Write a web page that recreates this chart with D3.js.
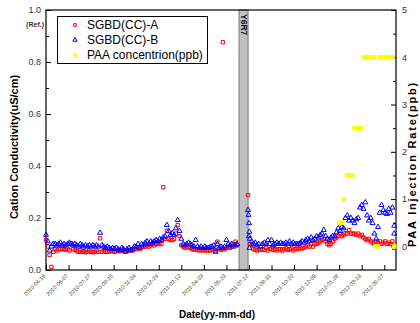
<!DOCTYPE html>
<html>
<head>
<meta charset="utf-8">
<script src="https://cdn.jsdelivr.net/npm/d3@7"></script>
<style>
  body { margin: 0; background: #fff; }
  svg { display: block; font-family: "Liberation Sans", Arial, sans-serif; }
</style>
</head>
<body>
<div id="chart"></div>
<script>
// x range and ticks
const startDate = "2010-04-18";
const endDate = "2012-06-02";
const dateTicks = ["2010-04-18", "2010-06-07", "2010-07-27", "2010-09-15", "2010-11-04", "2010-12-24",
  "2011-02-12", "2011-04-03", "2011-05-23", "2011-07-12", "2011-08-31", "2011-10-20",
  "2011-12-09", "2012-01-28", "2012-03-18", "2012-05-07"];
const leftTicks = [0, 0.2, 0.4, 0.6, 0.8, 1.0];
const rightTicks = [0, 1, 2, 3, 4, 5];

// outage window (Y6R7)
const outage = ["2011-06-20", "2011-07-10"];
const outageLabel = "Y6R7";

// SGBD readings, one sample every 4 days from sampleStart (null = no data)
const sampleStart = "2010-04-18";
const sampleStepDays = 4;
const sgbdA = [
  0.115, 0.09, 0.058, 0.012, 0.07, 0.08, 0.075, 0.08, 0.08, 0.08,
  0.08, 0.078, 0.082, 0.075, 0.103, 0.08, 0.078, 0.072, 0.07, 0.075,
  0.07, 0.072, 0.068, 0.07, 0.075, 0.07, 0.068, 0.07, 0.075, 0.07,
  0.122, 0.07, 0.075, 0.07, 0.072, 0.07, 0.075, 0.072, 0.07, 0.072,
  0.075, 0.072, 0.078, 0.075, 0.072, 0.075, 0.075, 0.078, 0.075, 0.08,
  0.08, 0.085, 0.08, 0.088, 0.09, 0.09, 0.095, 0.09, 0.095, 0.1,
  0.095, 0.1, 0.1, 0.105, 0.1, 0.318, 0.12, 0.151, 0.12, 0.115,
  0.115, 0.12, 0.14, 0.173, 0.13, 0.095, 0.09, 0.085, 0.09, 0.088,
  0.085, 0.08, 0.078, 0.08, 0.077, 0.075, 0.078, 0.075, 0.077, 0.075,
  0.075, 0.075, 0.078, 0.08, 0.075, 0.109, 0.08, 0.078, 0.08, 0.08,
  0.085, 0.09, 0.085, 0.09, 0.1, 0.109, 0.095,
  null, null, null, null, null,
  0.288, 0.1, 0.096, 0.08, 0.078, 0.075, 0.08, 0.077,
  0.08, 0.077, 0.085, 0.075, 0.08, 0.083, 0.077, 0.08, 0.075, 0.08,
  0.08, 0.075, 0.08, 0.083, 0.077, 0.08, 0.083, 0.075, 0.08, 0.083,
  0.08, 0.085, 0.083, 0.085, 0.09, 0.095, 0.09, 0.1, 0.09, 0.1,
  0.1, 0.105, 0.11, 0.115, 0.12, 0.11, 0.1, 0.095, 0.1, 0.11,
  0.12, 0.125, 0.13, 0.14, 0.13, 0.135, 0.142, 0.14, 0.154, 0.14,
  0.14, 0.14, 0.135, 0.14, 0.13, 0.135, 0.125, 0.12, 0.115, 0.12,
  0.11, 0.105, 0.1, 0.11, 0.105, 0.11, 0.1, 0.105, 0.11, 0.1,
  0.105, 0.1, 0.11, 0.085
];
const sgbdB = [
  0.135, 0.11, 0.075, 0.09, 0.1, 0.1, 0.095, 0.1, 0.105, 0.095,
  0.1, 0.095, 0.1, 0.105, 0.1, 0.095, 0.1, 0.095, 0.09, 0.1,
  0.095, 0.09, 0.095, 0.09, 0.095, 0.09, 0.095, 0.09, 0.095, 0.09,
  0.143, 0.095, 0.09, 0.085, 0.09, 0.085, 0.08, 0.085, 0.08, 0.085,
  0.08, 0.075, 0.085, 0.08, 0.07, 0.08, 0.085, 0.075, 0.082, 0.09,
  0.09, 0.1, 0.085, 0.1, 0.095, 0.105, 0.11, 0.1, 0.11, 0.105,
  0.11, 0.115, 0.11, 0.12, 0.115, 0.125, 0.13, 0.173, 0.15, 0.135,
  0.142, 0.135, 0.16, 0.192, 0.15, 0.12, 0.1, 0.095, 0.1, 0.105,
  0.1, 0.095, 0.09, 0.115, 0.09, 0.085, 0.09, 0.085, 0.09, 0.085,
  0.085, 0.088, 0.09, 0.095, 0.07, 0.1, 0.085, 0.09, 0.085, 0.09,
  0.115, 0.1, 0.095, 0.1, 0.09, 0.095, 0.1,
  null, null, null, null, null,
  0.231, 0.12, 0.11, 0.1, 0.105, 0.095, 0.1, 0.09,
  0.1, 0.105, 0.1, 0.115, 0.1, 0.115, 0.095, 0.1, 0.105, 0.1,
  0.105, 0.1, 0.1, 0.105, 0.1, 0.11, 0.1, 0.105, 0.1, 0.1,
  0.1, 0.105, 0.11, 0.105, 0.115, 0.12, 0.11, 0.125, 0.115, 0.12,
  0.13, 0.125, 0.135, 0.14, 0.154, 0.13, 0.12, 0.115, 0.125, 0.13,
  0.13, 0.145, 0.16, 0.15, 0.165, 0.16, 0.2, 0.21, 0.19, 0.2,
  0.19, 0.18, 0.195, 0.2, 0.24, 0.25, 0.235, 0.26, 0.21, 0.19,
  0.2, 0.18, 0.14, 0.12, 0.165, 0.22, 0.25, 0.23, 0.22, 0.215,
  0.235, 0.22, 0.24, 0.17
];
// extra readings off the regular grid
const extraA = [["2011-05-15", 0.876]];
const extraB = [["2011-07-11", 0.212], ["2011-07-12", 0.18], ["2011-07-12", 0.13],
  ["2011-07-13", 0.147], ["2011-07-13", 0.085], ["2012-05-29", 0.14]];

// PAA injection (right axis)
const paaDates = ["2012-01-28", "2012-02-04", "2012-02-07",
  "2012-02-15", "2012-02-19", "2012-02-23", "2012-02-26",
  "2012-03-02", "2012-03-06", "2012-03-10", "2012-03-14", "2012-03-17",
  "2012-03-22", "2012-03-26", "2012-03-30", "2012-04-03", "2012-04-07", "2012-04-11", "2012-04-14",
  "2012-04-18", "2012-04-22",
  "2012-04-27", "2012-05-01", "2012-05-05", "2012-05-09", "2012-05-13", "2012-05-17", "2012-05-21", "2012-05-25",
  "2012-05-29"];
const paaValues = [0.5, 0.5, 1.0,
  1.5, 1.5, 1.5, 1.5,
  2.5, 2.5, 2.5, 2.5, 2.5,
  4, 4, 4, 4, 4, 4, 4,
  0, 0,
  4, 4, 4, 4, 4, 4, 4, 4,
  0];

const W = 420, H = 323;
const L = 46, R = 396, T = 10, B = 270;
const parse = d3.timeParse("%Y-%m-%d");

const x = d3.scaleTime().domain([parse(startDate), parse(endDate)]).range([L, R]);
const yL = d3.scaleLinear().domain([0, 1]).range([B, T]);
const yR = d3.scaleLinear().domain([-0.5, 5]).range([B, T]);

function gridSeries(vals, extra) {
  const t0 = parse(sampleStart);
  const pts = [];
  vals.forEach((v, i) => {
    if (v != null) pts.push({ date: d3.timeDay.offset(t0, i * sampleStepDays), v });
  });
  extra.forEach(e => pts.push({ date: parse(e[0]), v: e[1] }));
  return pts;
}
const dataA = gridSeries(sgbdA, extraA);
const dataB = gridSeries(sgbdB, extraB);
const dataP = paaDates.map((d, i) => ({ date: parse(d), v: paaValues[i] }));

const svg = d3.select("#chart").append("svg")
  .attr("width", W).attr("height", H);

// outage bar
const ox0 = x(parse(outage[0])), ox1 = x(parse(outage[1]));
svg.append("rect")
  .attr("x", ox0).attr("y", T).attr("width", ox1 - ox0).attr("height", B - T)
  .attr("fill", "#c0c0c0").attr("stroke", "#7a7a7a").attr("stroke-width", 1);
svg.append("text")
  .attr("transform", `translate(${(ox0 + ox1) / 2 - 3},${T + 4}) rotate(90)`)
  .attr("font-size", "8.5px").attr("font-weight", "bold").attr("fill", "#111")
  .text(outageLabel);

// axes
const xAxis = d3.axisBottom(x)
  .tickValues(dateTicks.map(parse))
  .tickFormat(d3.timeFormat("%Y-%m-%d"))
  .tickSizeInner(-5).tickSizeOuter(0);
const gx = svg.append("g").attr("transform", `translate(0,${B})`).call(xAxis);
gx.select(".domain").remove();
gx.selectAll("text")
  .attr("x", 0).attr("y", 0).attr("dy", "0.35em")
  .attr("text-anchor", "end")
  .attr("transform", "translate(-2,5) rotate(-45)")
  .style("font-size", "5.5px").attr("fill", "#333");

const gy = svg.append("g").attr("transform", `translate(${L},0)`)
  .call(d3.axisLeft(yL).tickValues(leftTicks).tickFormat(d3.format(".1f"))
    .tickSizeInner(-5).tickSizeOuter(0).tickPadding(5));
gy.select(".domain").remove();
gy.selectAll("text").style("font-size", "9px").attr("fill", "#333");
const gyMinor = svg.append("g").attr("transform", `translate(${L},0)`)
  .call(d3.axisLeft(yL).tickValues([0.1, 0.3, 0.5, 0.7, 0.9]).tickFormat("")
    .tickSizeInner(-3).tickSizeOuter(0));
gyMinor.select(".domain").remove();

const gr = svg.append("g").attr("transform", `translate(${R},0)`)
  .call(d3.axisRight(yR).tickValues(rightTicks).tickFormat(d3.format("d"))
    .tickSizeInner(-5).tickSizeOuter(0).tickPadding(6));
gr.select(".domain").remove();
gr.selectAll("text").style("font-size", "9px").attr("fill", "#333");
const grMinor = svg.append("g").attr("transform", `translate(${R},0)`)
  .call(d3.axisRight(yR).tickValues([0.5, 1.5, 2.5, 3.5, 4.5]).tickFormat("")
    .tickSizeInner(-3).tickSizeOuter(0));
grMinor.select(".domain").remove();

svg.append("rect")
  .attr("x", L).attr("y", T).attr("width", R - L).attr("height", B - T)
  .attr("fill", "none").attr("stroke", "#000").attr("stroke-width", 1.2);

// markers
const sq = d3.symbol().type(d3.symbolSquare);
const tri = d3.symbol().type(d3.symbolTriangle);

svg.append("g").selectAll("path").data(dataA).join("path")
  .attr("d", sq.size(11)())
  .attr("transform", d => `translate(${x(d.date)},${yL(d.v)})`)
  .attr("fill", "none").attr("stroke", "#ff0000").attr("stroke-width", 1);

svg.append("g").selectAll("path").data(dataB).join("path")
  .attr("d", tri.size(11)())
  .attr("transform", d => `translate(${x(d.date)},${yL(d.v)})`)
  .attr("fill", "none").attr("stroke", "#0000ff").attr("stroke-width", 1);

svg.append("g").selectAll("path").data(dataP).join("path")
  .attr("d", sq.size(20)())
  .attr("transform", d => `translate(${x(d.date)},${yR(d.v)})`)
  .attr("fill", "#ffff00");

// legend
const lg = svg.append("g");
lg.append("rect").attr("x", 57.5).attr("y", 16.5).attr("width", 150).attr("height", 47)
  .attr("fill", "#fff").attr("stroke", "#000").attr("stroke-width", 1);
const legendItems = [
  { label: "SGBD(CC)-A", kind: "A" },
  { label: "SGBD(CC)-B", kind: "B" },
  { label: "PAA concentrion(ppb)", kind: "P" }
];
legendItems.forEach((it, i) => {
  const cy = 25 + i * 15;
  const m = lg.append("path").attr("transform", `translate(75,${cy})`);
  if (it.kind === "A") m.attr("d", sq.size(7)()).attr("fill", "none").attr("stroke", "#ff0000");
  if (it.kind === "B") m.attr("d", tri.size(8)()).attr("fill", "none").attr("stroke", "#0000ff");
  if (it.kind === "P") m.attr("d", sq.size(12)()).attr("fill", "#ffff00");
  lg.append("text").attr("x", 87).attr("y", cy + 4)
    .attr("font-size", "12px").attr("fill", "#000").text(it.label);
});

// titles
svg.append("text").attr("x", 44).attr("y", 27).attr("text-anchor", "end")
  .attr("font-size", "7px").attr("font-weight", "bold").attr("fill", "#333").text("(Ref.)");
svg.append("text")
  .attr("transform", `translate(18,${(T + B) / 2 + 7}) rotate(-90)`)
  .attr("text-anchor", "middle").attr("font-size", "11px").attr("font-weight", "bold")
  .text("Cation Conductivity(uS/cm)");
svg.append("text")
  .attr("transform", `translate(416,164) rotate(-90)`)
  .attr("text-anchor", "middle").attr("font-size", "11px").attr("font-weight", "bold")
  .attr("letter-spacing", "1.8px")
  .text("PAA Injection Rate(ppb)");
svg.append("text").attr("x", 217).attr("y", 318).attr("text-anchor", "middle")
  .attr("font-size", "10px").attr("font-weight", "bold").text("Date(yy-mm-dd)");
</script>
</body>
</html>
